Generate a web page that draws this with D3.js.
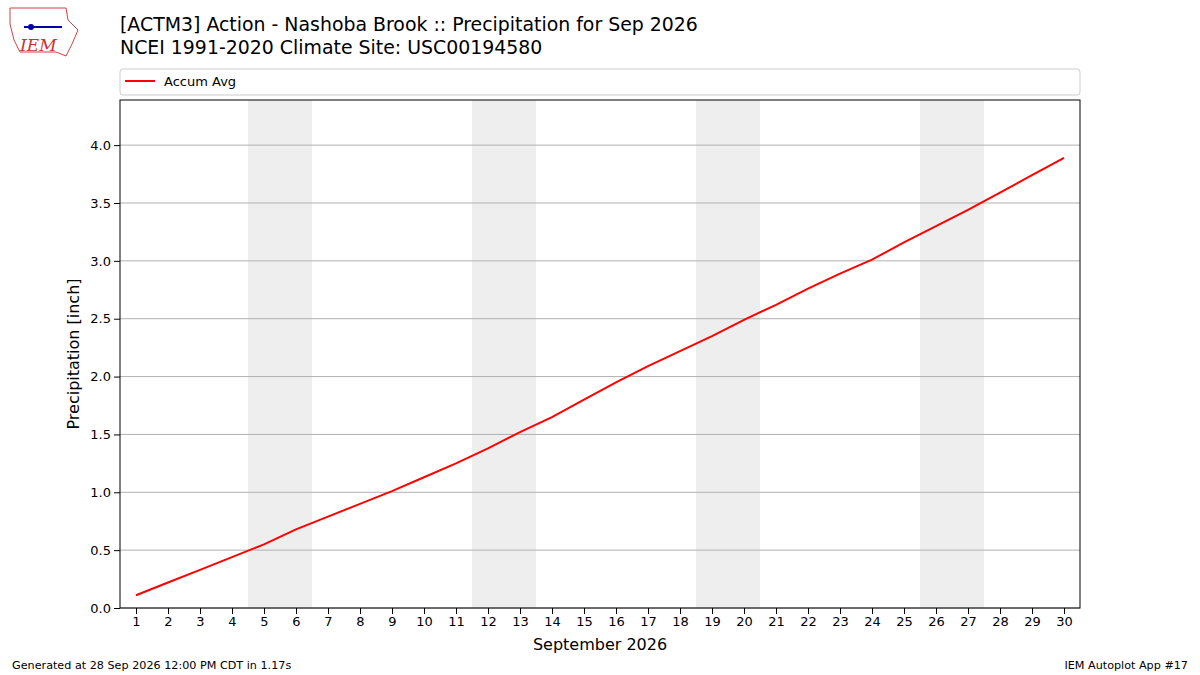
<!DOCTYPE html>
<html><head><meta charset="utf-8">
<script src="https://cdn.jsdelivr.net/npm/d3@7"></script>
<style>body{margin:0;background:#fff;font-family:"DejaVu Sans",sans-serif}</style>
</head><body><div id="chart"></div>
<script>
var days = d3.range(1, 31);
var accumAvg = [0.11,0.22,0.33,0.44,0.55,0.68,0.79,0.90,1.01,1.13,1.25,1.38,1.52,1.65,1.80,1.95,2.09,2.22,2.35,2.49,2.62,2.76,2.89,3.01,3.16,3.30,3.44,3.59,3.74,3.89];
var weekends = [5,12,19,26];
var yTicks = [0,0.5,1,1.5,2,2.5,3,3.5,4];

var W = 1200, H = 675;
var m = {left:120, right:120, top:100, bottom:67};
var svg = d3.select("#chart").append("svg").attr("width", W).attr("height", H)
  .style("font-family", "DejaVu Sans, sans-serif");

var x = d3.scaleLinear().domain([0.5, 30.5]).range([m.left, W - m.right]);
var y = d3.scaleLinear().domain([0, 4.39]).range([H - m.bottom, m.top]);

// weekend shading
svg.selectAll(".wk").data(weekends).enter().append("rect")
  .attr("x", function(d){ return x(d - 0.5); })
  .attr("width", function(d){ return x(d + 1.5) - x(d - 0.5); })
  .attr("y", m.top).attr("height", y(0) - m.top)
  .attr("fill", "#eeeeee");

// grid
svg.selectAll(".grid").data(yTicks).enter().append("line")
  .attr("x1", m.left).attr("x2", W - m.right)
  .attr("y1", function(d){ return y(d); }).attr("y2", function(d){ return y(d); })
  .attr("stroke", "#b0b0b0").attr("stroke-width", 1);

var line = d3.line().x(function(d, i){ return x(days[i]); }).y(function(d){ return y(d); });
svg.append("path").datum(accumAvg).attr("d", line)
  .attr("fill", "none").attr("stroke", "red").attr("stroke-width", 2);

svg.append("rect").attr("x", m.left).attr("y", m.top)
  .attr("width", W - m.left - m.right).attr("height", y(0) - m.top)
  .attr("fill", "none").attr("stroke", "#000");

var xAxis = svg.append("g").attr("transform", "translate(0," + y(0) + ")")
  .call(d3.axisBottom(x).tickValues(days).tickFormat(d3.format("d")).tickSizeOuter(0));
var yAxis = svg.append("g").attr("transform", "translate(" + m.left + ",0)")
  .call(d3.axisLeft(y).tickValues(yTicks).tickFormat(d3.format(".1f")).tickSizeOuter(0));
[xAxis, yAxis].forEach(function(a){
  a.select(".domain").remove();
  a.selectAll("text").attr("font-size", 13).attr("fill", "#000").style("font-family", "DejaVu Sans");
  a.selectAll("line").attr("stroke", "#000");
});

svg.append("text").attr("x", (m.left + W - m.right) / 2).attr("y", 650)
  .attr("text-anchor", "middle").attr("font-size", 16).text("September 2026");
svg.append("text").attr("transform", "translate(79," + ((m.top + y(0)) / 2) + ") rotate(-90)")
  .attr("text-anchor", "middle").attr("font-size", 16).text("Precipitation [inch]");

// titles
svg.append("text").attr("x", 120).attr("y", 31).attr("font-size", 18.9)
  .text("[ACTM3] Action - Nashoba Brook :: Precipitation for Sep 2026");
svg.append("text").attr("x", 120).attr("y", 54).attr("font-size", 18.9)
  .text("NCEI 1991-2020 Climate Site: USC00194580");

// legend
svg.append("rect").attr("x", 120).attr("y", 69).attr("width", 960).attr("height", 26)
  .attr("rx", 3).attr("fill", "#fff").attr("stroke", "#ccc");
svg.append("line").attr("x1", 125).attr("x2", 155).attr("y1", 81).attr("y2", 81)
  .attr("stroke", "red").attr("stroke-width", 2);
svg.append("text").attr("x", 164).attr("y", 86).attr("font-size", 13).text("Accum Avg");

// footer
svg.append("text").attr("x", 12).attr("y", 669).attr("font-size", 11.2)
  .text("Generated at 28 Sep 2026 12:00 PM CDT in 1.17s");
svg.append("text").attr("x", 1188).attr("y", 669).attr("text-anchor", "end").attr("font-size", 11.2)
  .text("IEM Autoplot App #17");

// logo
var logo = svg.append("g");
logo.append("path").attr("d", "M10,8 L66,8 L68,20 L78,30 L72,44 L66,56 L56,52 L20,52 L14,40 L10,24 Z")
  .attr("fill", "#fff").attr("stroke", "#d04040").attr("stroke-width", 1);
logo.append("line").attr("x1", 24).attr("x2", 62).attr("y1", 27).attr("y2", 27).attr("stroke", "#0000aa").attr("stroke-width", 2);
logo.append("circle").attr("cx", 31).attr("cy", 27).attr("r", 3).attr("fill", "#0000aa");
logo.append("text").attr("x", 20).attr("y", 51).attr("font-size", 17).attr("font-style", "italic")
  .attr("font-family", "DejaVu Serif").attr("fill", "#d03030").text("IEM");
</script></body></html>
